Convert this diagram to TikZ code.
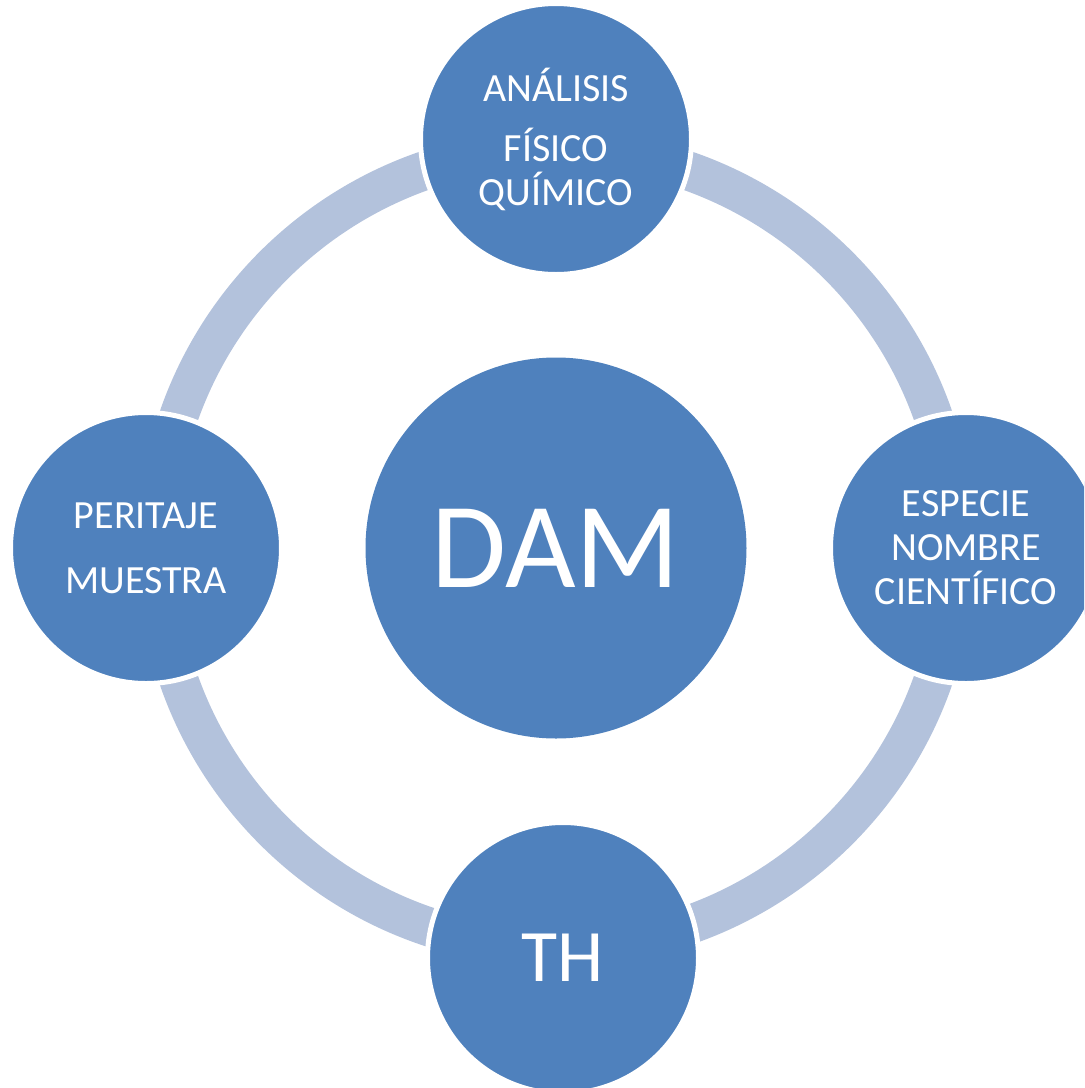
\documentclass[tikz,border=0pt]{standalone}
\usepackage{fontspec}
\setmainfont{Carlito}
\usetikzlibrary{positioning}
\definecolor{bubble}{HTML}{4F81BD}
\definecolor{ringblue}{HTML}{B3C2DC}
\tikzstyle{hub} = [circle, fill=bubble, text=white, inner sep=0pt,
                minimum size=190.5pt, font=\fontsize{61}{70}\selectfont]
\tikzstyle{sat} = [circle, fill=bubble, draw=white, line width=2.5pt, text=white,
                inner sep=0pt, minimum size=135.5pt, align=center,
                font=\fontsize{20}{22}\selectfont]
\tikzstyle{ring} = [draw=ringblue, line width=19.5pt]
\begin{document}
\begin{tikzpicture}[x=0.5pt, y=-0.5pt]
        \path[use as bounding box, clip] (0,0) rectangle (1084,1088);
        \coordinate (mid) at (556,548);
        \draw[ring] (mid) circle (199.75pt);
        \node[sat](analisis) at (556,139){ANÁLISIS\\[8pt]FÍSICO\\QUÍMICO};
        \node[sat](peritaje) at (146,548){PERITAJE\\[10.5pt]MUESTRA};
        \node[sat](especie) at (966,548){ESPECIE\\NOMBRE\\CIENTÍFICO};
        \node[sat, font=\fontsize{37}{40}\selectfont](th) at (563,958){TH};
        \node[hub](dam) at (mid){DAM};
    \end{tikzpicture}
\end{document}
